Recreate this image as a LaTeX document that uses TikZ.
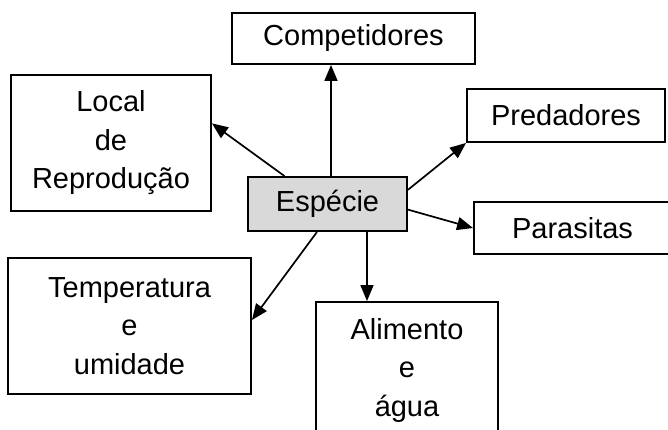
\documentclass[tikz,border=0pt]{standalone}
\usepackage{fontspec}
\setmainfont{Liberation Sans}
\usetikzlibrary{arrows.meta}
\definecolor{boxgray}{HTML}{D9D9D9}
\begin{document}
\begin{tikzpicture}[x=1pt,y=-1pt,
  box/.style={draw, line width=1.9pt, inner sep=0pt, align=center,
    font=\fontsize{29}{38.5}\selectfont},
  conn/.style={line width=1.7pt, -{Triangle[length=16pt,width=13pt]}}]
\useasboundingbox (0,0) rectangle (668,430);
\clip (0,0) rectangle (668,430);
\node[box, minimum width=243pt, minimum height=51pt] (comp) at (353.5,38.5) {Competidores};
\node[box, minimum width=200pt, minimum height=136pt] (loc) at (111,143) {Local\\de\\Reprodução};
\node[box, minimum width=198pt, minimum height=53pt] (pred) at (566,115.5) {Predadores};
\node[box, minimum width=159pt, minimum height=54pt, fill=boxgray] (esp) at (327.5,204) {Espécie};
\node[box, minimum width=197pt, minimum height=52pt] (par) at (572.5,228) {Parasitas};
\node[box, minimum width=243pt, minimum height=136pt] (temp) at (129.5,326) {Temperatura\\e\\umidade};
\node[box, minimum width=182pt, minimum height=136pt] (ali) at (407,370) {Alimento\\e\\água};
\draw[conn] ([xshift=3.5pt]esp.north) -- ([xshift=3.5pt]esp.north |- comp.south);
\draw[conn] (esp.147) -- (loc.11);
\draw[conn] (esp.10) -- (pred.south west);
\draw[conn] (esp.-4) -- (par.west);
\draw[conn] ([xshift=-10.5pt]esp.south) -- ([yshift=6pt]temp.east);
\draw[conn] ([xshift=39.5pt]esp.south) -- ([xshift=39.5pt]esp.south |- ali.north);
\end{tikzpicture}
\end{document}
